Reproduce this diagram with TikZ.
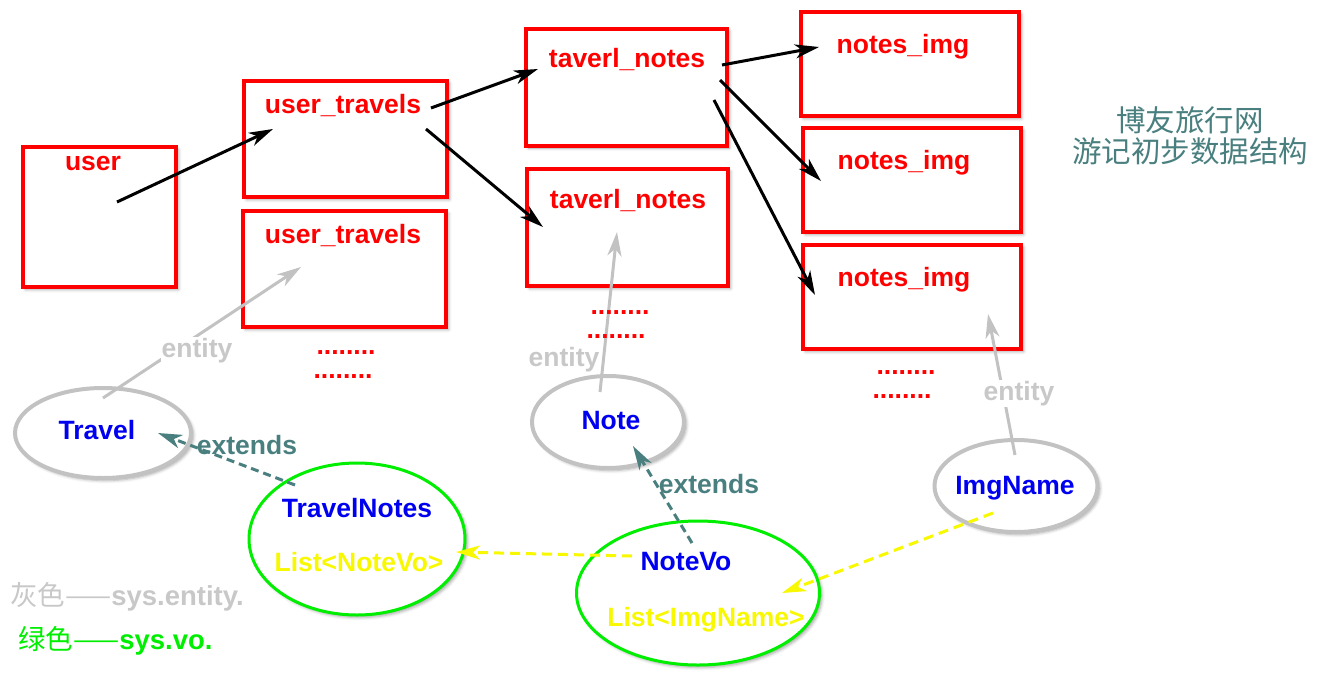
\documentclass[tikz,border=0pt]{standalone}
\usepackage{fontspec}
\setmainfont{Liberation Sans}
\newfontfamily\cjk{Noto Sans CJK SC}
\usetikzlibrary{arrows.meta,shapes.geometric,shadows,shadows.blur}
\definecolor{myred}{HTML}{FF0000}
\definecolor{myblue}{HTML}{0000F0}
\definecolor{myyellow}{HTML}{F8F800}
\definecolor{mygreen}{HTML}{00EE00}
\definecolor{myteal}{HTML}{4A7F7F}
\definecolor{mygray}{HTML}{C2C2C2}
\definecolor{legray}{HTML}{C8C8C8}
\tikzset{
  shd/.style={blur shadow={shadow xshift=2.5pt, shadow yshift=-2.5pt, shadow blur radius=3pt, shadow opacity=35}},
  tbox/.style={rectangle, draw=myred, line width=4pt, fill=white, inner sep=0pt, shd},
  gell/.style={ellipse, draw=mygray, line width=4pt, fill=white, inner sep=0pt, shd},
  vell/.style={ellipse, draw=mygreen, line width=3pt, fill=white, inner sep=0pt, shd},
  lbl/.style={inner sep=0pt, font=\fontsize{26.5}{30}\selectfont\bfseries, anchor=base},
  redl/.style={lbl, text=myred},
  bluel/.style={lbl, text=myblue},
  yell/.style={lbl, text=myyellow},
  entl/.style={lbl, text=legray, fill=white, inner sep=1pt},
  extl/.style={lbl, text=myteal},
  dotl/.style={lbl, text=myred},
  conn/.style={line width=3pt, -{Stealth[length=24pt,width=14pt,inset=7pt]}},
  blk/.style={conn, draw=black},
  ent/.style={conn, draw=mygray},
  ext/.style={conn, draw=myteal, dash pattern=on 8pt off 5pt},
  refa/.style={conn, draw=myyellow, dash pattern=on 10pt off 6pt},
  legl/.style={anchor=west, inner sep=0pt, font=\fontsize{27.5}{30}\selectfont\bfseries},
}
\begin{document}
\begin{tikzpicture}[x=1pt,y=-1pt]
\useasboundingbox (0,0) rectangle (1336,675);

% tables
\node[tbox, minimum width=153pt, minimum height=140pt] (userbox) at (99.5,217) {};
\node[tbox, minimum width=203pt, minimum height=116pt] (ut1) at (345.5,139) {};
\node[tbox, minimum width=203pt, minimum height=116pt] (ut2) at (344.5,269) {};
\node[tbox, minimum width=201pt, minimum height=117pt] (tn1) at (626.5,87) {};
\node[tbox, minimum width=201pt, minimum height=117pt] (tn2) at (627.5,227.5) {};
\node[tbox, minimum width=218pt, minimum height=104pt] (ni1) at (910,64) {};
\node[tbox, minimum width=218pt, minimum height=104pt] (ni2) at (912,180) {};
\node[tbox, minimum width=218pt, minimum height=104pt] (ni3) at (912,297) {};

% classes
\node[gell, minimum width=176pt, minimum height=90pt] (travel) at (103,433) {};
\node[gell, minimum width=152pt, minimum height=92pt] (note) at (608,422) {};
\node[gell, minimum width=163pt, minimum height=92pt] (imgname) at (1016,486) {};
\node[vell, minimum width=216pt, minimum height=152pt] (travelnotes) at (357,539) {};
\node[vell, minimum width=243pt, minimum height=144pt] (notevo) at (698,593) {};

% connector end points
\coordinate (a1s) at (117,202);  \coordinate (a1e) at (273,129);
\coordinate (a2s) at (431,108);  \coordinate (a2e) at (538,69);
\coordinate (a3s) at (426,129);  \coordinate (a3e) at (543,227);
\coordinate (a4s) at (722,65);   \coordinate (a4e) at (819,47);
\coordinate (a5s) at (720,80);   \coordinate (a5e) at (821,181);
\coordinate (a6s) at (714,100);  \coordinate (a6e) at (815,295);
\coordinate (e1s) at (103,398);  \coordinate (e1e) at (301,267);
\coordinate (e2s) at (600,392);  \coordinate (e2e) at (617,232);
\coordinate (e3s) at (1015,455); \coordinate (e3e) at (988,314);
\coordinate (x1s) at (295,485);  \coordinate (x1e) at (158,433);
\coordinate (x2s) at (692,543);  \coordinate (x2e) at (633,446);
\coordinate (y1s) at (632,556);  \coordinate (y1e) at (456,552);
\coordinate (y2s) at (993,513);  \coordinate (y2e) at (782,593);

% connectors
\draw[blk] (a1s) -- (a1e);
\draw[blk] (a2s) -- (a2e);
\draw[blk] (a3s) -- (a3e);
\draw[blk] (a4s) -- (a4e);
\draw[blk] (a5s) -- (a5e);
\draw[blk] (a6s) -- (a6e);
\draw[ent] (e1s) -- (e1e);
\draw[ent] (e2s) -- (e2e);
\draw[ent] (e3s) -- (e3e);
\draw[ext] (x1s) -- (x1e);
\draw[ext] (x2s) -- (x2e);
\draw[refa] (y1s) -- (y1e);
\draw[refa] (y2s) -- (y2e);

% table labels
\node[redl] (userl) at (93,170) {user};
\node[redl] (ut1l) at (343,113) {user\_travels};
\node[redl] (ut2l) at (343,243) {user\_travels};
\node[redl] (tn1l) at (627,67) {taverl\_notes};
\node[redl] (tn2l) at (628,208) {taverl\_notes};
\node[redl] (ni1l) at (903,53) {notes\_img};
\node[redl] (ni2l) at (904,169) {notes\_img};
\node[redl] (ni3l) at (904,286) {notes\_img};

% dots
\node[dotl] (d1) at (346,354) {........};
\node[dotl] (d2) at (343,378) {........};
\node[dotl] (d3) at (620,314) {........};
\node[dotl] (d4) at (616,338) {........};
\node[dotl] (d5) at (906,374) {........};
\node[dotl] (d6) at (902,398) {........};

% class labels
\node[bluel] (travell) at (97,439) {Travel};
\node[bluel] (notel) at (611,429) {Note};
\node[bluel] (imgnamel) at (1015,494) {ImgName};
\node[bluel] (travelnotesl) at (357,517) {TravelNotes};
\node[yell] (listnotevo) at (359,571) {List<NoteVo>};
\node[bluel] (notevol) at (686,570) {NoteVo};
\node[yell] (listimg) at (706,626) {List<ImgName>};

% connector labels
\node[entl] (ent1) at (197,357) {entity};
\node[entl] (ent2) at (564,366) {entity};
\node[entl] (ent3) at (1019,400) {entity};
\node[extl] (ext1) at (247,454) {extends};
\node[extl] (ext2) at (709,493) {extends};

% title
\node[font=\cjk\fontsize{29.5}{31}\selectfont, text=myteal, align=center, inner sep=0pt] (title) at (1190,136) {博友旅行网\\游记初步数据结构};

% legend
\node[legl, text=legray] (leg1) at (10,597) {{\cjk\mdseries 灰色——}sys.entity.};
\node[legl, text=mygreen] (leg2) at (18,641) {{\cjk\mdseries 绿色——}sys.vo.};
\end{tikzpicture}
\end{document}
